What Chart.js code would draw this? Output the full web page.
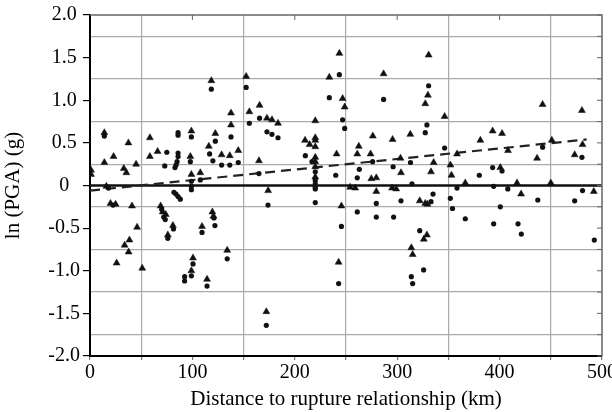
<!DOCTYPE html>
<html>
<head>
<meta charset="utf-8">
<script src="https://cdn.jsdelivr.net/npm/chart.js@4.4.1/dist/chart.umd.min.js"></script>
<style>
  html, body { margin: 0; padding: 0; background: #fff; }
  #wrap { width: 612px; height: 412px; }
</style>
</head>
<body>
<div id="wrap"><canvas id="chart" width="612" height="412"></canvas></div>
<script>
// Data
const triX = [1, 1, 14, 14, 23, 37.5, 33, 35.5, 45, 58.5, 58.5, 66, 99, 98, 99, 107.7, 116, 122.4, 128.5, 136.5,
  144.8, 118.5, 152.5, 137.7, 137.7, 155.6, 165.6, 172.8, 177.7, 183.6, 165, 16, 20, 25, 41, 46, 38.5, 33.8, 37.7, 26,
  51, 69, 71, 74, 81, 76, 109.4, 119.5, 120.5, 134, 100.6, 99, 114.3, 172.2, 174, 220, 210, 214.5, 220, 220,
  220, 220, 220, 220, 220, 233.7, 243.5, 246.7, 248.7, 240.8, 245.5, 242.8, 286.7, 262.5, 261, 274, 276.2, 295.5, 312.8, 303.2,
  303.7, 254, 259, 274.7, 279.6, 279.6, 295, 299, 322, 327.4, 329, 326, 313.8, 315.1, 330.7, 330, 327.4, 335.6, 333, 346.3,
  358.4, 352, 353, 381.2, 393.2, 402.4, 408.2, 442, 436.6, 451, 480.4, 481, 473.3, 400.7, 366.5, 417, 421, 450, 492, 329.5];
const triY = [0.18, 0.13, 0.62, 0.27, 0.34, 0.50, 0.20, 0.15, 0.25, 0.56, 0.34, 0.40, 0.64, 0.34, 0.13, 0.15, 0.46, 0.61, 0.36, 0.35,
  0.41, 1.23, 1.28, 0.85, 0.71, 0.865, 0.94, 0.79, 0.77, 0.73, 0.29, -0.01, -0.21, -0.22, -0.24, -0.49, -0.64, -0.70, -0.78, -0.91,
  -0.97, -0.24, -0.31, -0.34, -0.47, -0.58, -0.48, -0.31, -0.36, -0.76, -0.85, -1.0, -1.10, -1.48, -0.06, 0.76, 0.53, 0.48, 0.56, 0.53,
  0.455, 0.33, 0.28, 0.22, 0.10, 1.27, 1.55, 1.02, 0.92, 0.37, -0.24, -0.90, 1.31, 0.46, 0.37, 0.37, 0.58, 0.54, 0.60, 0.32,
  0.15, -0.02, -0.03, 0.08, 0.09, -0.07, -0.03, -0.04, -0.18, -0.21, -0.58, -0.63, -0.73, -0.81, 1.53, 1.06, 0.96, 0.27, 0.16, 0.81,
  0.37, 0.24, 0.12, 0.53, 0.64, 0.61, 0.41, 0.95, 0.32, 0.53, 0.88, 0.48, 0.36, 0.21, 0.03, 0.03, -0.10, 0.03, -0.07, -0.22];

const dotX = [14, 75, 73, 86, 86, 86, 86, 85, 84, 83, 99, 98, 99, 99, 99, 107.7, 116.8, 120, 122.4, 128.5,
  136.5, 144.8, 118.5, 152.5, 137.7, 155.6, 165.6, 172.8, 177.7, 183.6, 165, 18, 22.5, 72, 73.5, 70, 81.5, 76, 82, 84,
  86, 88.2, 109.4, 121, 122, 134, 100.6, 99, 92.4, 92.4, 114.3, 172.2, 173.8, 210.3, 216.8, 220, 220, 220, 220, 220,
  220, 233.7, 243.5, 246.7, 248.7, 240, 245.5, 242.8, 286.7, 276, 296, 313, 263, 261, 261, 279.6, 279.6, 296.5, 303.7, 314.4,
  333, 335, 322, 325.8, 313.8, 315.1, 330.7, 329, 327.4, 346.3, 442, 480.4, 393.2, 402.4, 380.2, 358.4, 394.2, 408, 481, 351.9,
  354, 366.5, 394.2, 400.7, 418, 421.2, 437.3, 473.3, 492.5];
const dotY = [0.58, 0.39, 0.23, 0.62, 0.59, 0.38, 0.34, 0.28, 0.24, 0.21, 0.57, 0.28, 0.05, -0.01, -0.05, 0.065, 0.37, 0.29, 0.52, 0.24,
  0.24, 0.27, 1.13, 1.15, 0.57, 0.73, 0.79, 0.63, 0.60, 0.56, 0.14, -0.03, -0.23, -0.37, -0.40, -0.28, -0.51, -0.62, -0.08, -0.10,
  -0.13, -0.16, -0.55, -0.38, -0.47, -0.86, -0.92, -1.06, -1.07, -1.12, -1.18, -1.64, -0.23, 0.35, 0.28, 0.16, 0.06, 0.02, -0.02, -0.04,
  -0.20, 1.03, 1.30, 0.77, 0.67, 0.12, -0.48, -1.15, 1.01, 0.28, 0.22, 0.27, 0.19, 0.09, -0.31, -0.21, -0.37, -0.37, -0.18, 0.02,
  -0.19, -0.10, -0.53, -0.99, -1.07, -1.15, 1.17, 0.71, 0.62, 0.44, 0.45, 0.33, 0.21, 0.17, 0.12, -0.03, -0.01, -0.04, -0.06, -0.15,
  -0.27, -0.39, -0.45, -0.25, -0.45, -0.57, -0.17, -0.18, -0.64];

// trend (dashed) and reference (solid) lines
const trendX = [0, 485];
const trendY = [-0.06, 0.54];
const zeroX = [0, 500];
const zeroY = [0, 0];

const xMin = 0, xMax = 500, xStep = 50;
const yMin = -2, yMax = 2, yStep = 0.25;

function pts(xs, ys) {
	return xs.map((x, i) => ({ x, y: ys[i] }));
}

const serif = "'Liberation Serif', 'Times New Roman', serif";
const isHalf = v => Math.abs(v * 2 - Math.round(v * 2)) < 1e-6;

// top / right frame with small inward ticks
const framePlugin = {
	id: 'frame',
	afterDatasetsDraw(chart) {
		const { ctx, chartArea: a, scales } = chart;
		ctx.save();
		ctx.strokeStyle = '#666';
		ctx.lineWidth = 1.5;
		ctx.beginPath();
		ctx.moveTo(a.left, a.top);
		ctx.lineTo(a.right, a.top);
		ctx.lineTo(a.right, a.bottom);
		ctx.stroke();
		ctx.lineWidth = 1;
		ctx.beginPath();
		scales.x.ticks.forEach(t => {
			if (t.value % 100 !== 0 || t.value === xMin || t.value === xMax) return;
			const px = scales.x.getPixelForValue(t.value);
			ctx.moveTo(px, a.top);
			ctx.lineTo(px, a.top + 5);
		});
		scales.y.ticks.forEach(t => {
			const py = scales.y.getPixelForValue(t.value);
			ctx.moveTo(a.right, py);
			ctx.lineTo(a.right - 5, py);
		});
		ctx.stroke();
		ctx.restore();
	}
};

new Chart(document.getElementById('chart'), {
	type: 'scatter',
	data: {
		datasets: [
			{
				data: pts(triX, triY),
				pointStyle: 'triangle',
				pointRadius: 4,
				pointBackgroundColor: '#111',
				pointBorderColor: '#111',
				pointBorderWidth: 0.5
			},
			{
				data: pts(dotX, dotY),
				pointStyle: 'circle',
				pointRadius: 2.6,
				pointBackgroundColor: '#111',
				pointBorderColor: '#111',
				pointBorderWidth: 0
			},
			{
				data: pts(trendX, trendY),
				showLine: true,
				pointRadius: 0,
				borderColor: '#222',
				borderWidth: 2.2,
				borderDash: [10, 6]
			},
			{
				data: pts(zeroX, zeroY),
				showLine: true,
				pointRadius: 0,
				borderColor: '#111',
				borderWidth: 2.5
			}
		]
	},
	options: {
		responsive: false,
		animation: false,
		layout: { padding: { top: 15, right: 10, left: 0, bottom: 0 } },
		plugins: { legend: { display: false }, tooltip: { enabled: false } },
		scales: {
			x: {
				type: 'linear',
				min: xMin,
				max: xMax,
				border: { color: '#000', width: 2 },
				grid: {
					color: c => (c.tick && c.tick.value % 100 === 50 ? '#aaa' : 'rgba(0,0,0,0)'),
					lineWidth: 1.2,
					tickColor: '#777',
					tickLength: 4
				},
				ticks: {
					stepSize: xStep,
					autoSkip: false,
					maxRotation: 0,
					padding: 1,
					color: '#000',
					font: { family: serif, size: 20 },
					callback: v => (v % 100 === 0 ? String(v) : '')
				},
				title: {
					display: true,
					text: 'Distance to rupture relationship (km)',
					color: '#000',
					font: { family: serif, size: 21 },
					padding: { top: 0, bottom: 0 }
				},
				afterFit: s => { s.height = 56; s.paddingLeft = 0; s.paddingRight = 0; }
			},
			y: {
				type: 'linear',
				min: yMin,
				max: yMax,
				border: { color: '#000', width: 2 },
				grid: {
					color: c => (c.tick && !isHalf(c.tick.value) ? '#aaa' : 'rgba(0,0,0,0)'),
					lineWidth: 1.2,
					tickColor: c => (c.tick && isHalf(c.tick.value) ? '#000' : 'rgba(0,0,0,0)'),
					tickLength: 7
				},
				ticks: {
					stepSize: yStep,
					autoSkip: false,
					padding: 3,
					crossAlign: 'center',
					color: '#000',
					font: { family: serif, size: 20 },
					callback: v => (!isHalf(v) ? '' : (v === 0 ? '0' : v.toFixed(1)))
				},
				title: {
					display: true,
					text: 'ln (PGA) (g)',
					color: '#000',
					font: { family: serif, size: 21 },
					padding: { top: 1, bottom: 0 }
				},
				afterFit: s => { s.width = 90; s.paddingTop = 0; s.paddingBottom = 0; }
			}
		}
	},
	plugins: [framePlugin]
});
</script>
</body>
</html>
